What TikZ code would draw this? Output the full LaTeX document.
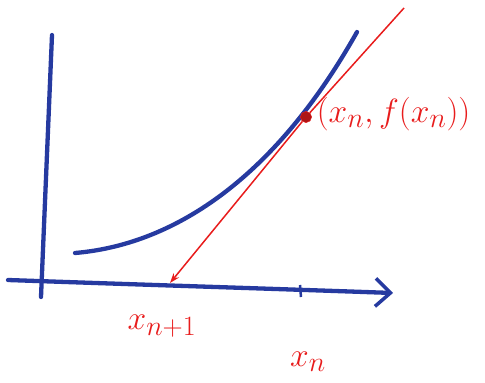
\documentclass[tikz,border=0pt]{standalone}
\usepackage{amsmath, amssymb}
\usepackage{tikz}
\usetikzlibrary{positioning, arrows.meta, calc}
\usepackage{xcolor}
\definecolor{penblue}{RGB}{38,58,160}
\definecolor{penred}{RGB}{232,28,28}
\tikzset{
    axis/.style={
        penblue,
        line width=4.3pt,
        line cap=round
    },
    curve/.style={
        penblue,
        line width=4.3pt,
        line cap=round
    },
    tangent/.style={
        penred,
        line width=1.5pt
    },
    label/.style={
        penred,
        font=\Huge,
        scale=1.35
    },
    touch/.style={
        circle,
        draw=penred,
        fill=penred!75!black,
        inner sep=4pt
    }
}
\begin{document}
\begin{tikzpicture}[x=1pt,y=-1pt]

      \useasboundingbox (0,0) rectangle (485,383);

      % axes
      \coordinate (ytop) at (52,35);
      \coordinate (ybot) at (41,297);
      \coordinate (xleft) at (8,280);
      \coordinate (xright) at (393,293);
      \draw[axis] (ybot) -- (ytop);
      \draw[axis, -{Straight Barb[length=15pt,width=28pt,line width=3.5pt]}]
        (xleft) to[out=-2,in=178] (xright);

      % tick at x_n
      \coordinate (tn) at (300,285);
      \coordinate (bn) at (301,297);
      \draw[penblue, line width=2.5pt] (tn) -- (bn);

      % the function
      \coordinate (fa) at (75,253);
      \coordinate (fb) at (357,32);
      \draw[curve] (fa) .. controls (170,245) and (272,183) .. (fb);

      % tangent at (x_n, f(x_n))
      \node[touch] (p) at (306,117) {};
      \coordinate (tip) at (404,8);
      \coordinate (xnext) at (170,283);
      \draw[tangent] (tip) -- (p);
      \draw[tangent, -{Stealth[length=10pt,width=7pt]}] (p) -- (xnext);

      % labels
      \node[label, anchor=west] (pt) at (312,114) {$(x_n,f(x_n))$};
      \node[label] (lnext) at (162,326) {$x_{n+1}$};
      \node[label] (ln) at (308,362) {$x_n$};

    \end{tikzpicture}
\end{document}
